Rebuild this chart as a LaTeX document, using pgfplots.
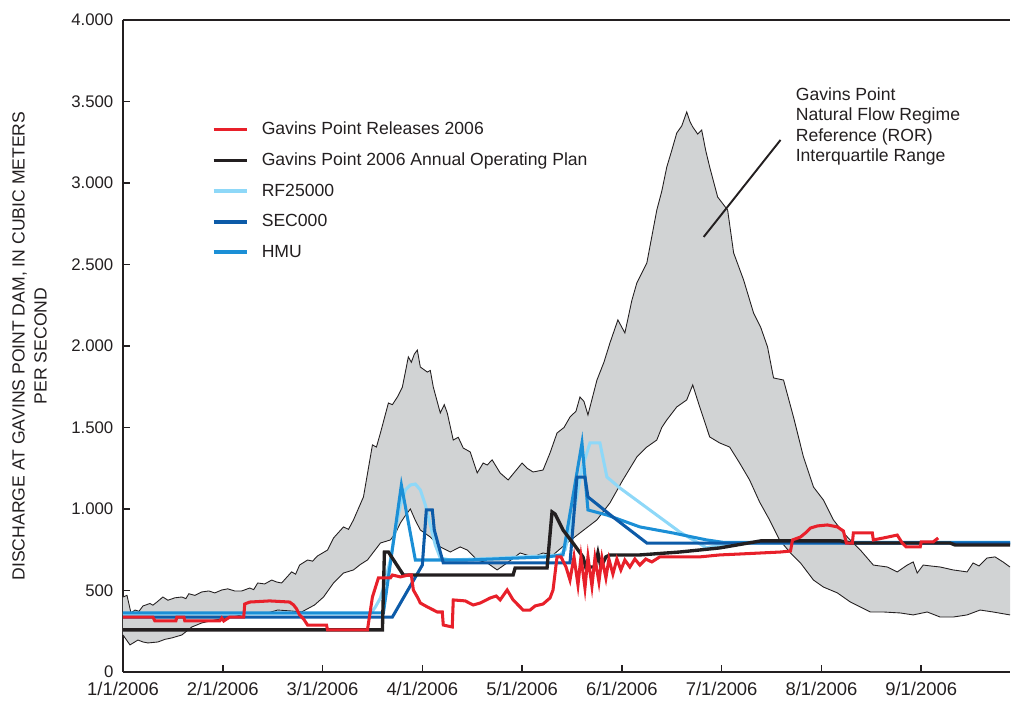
\documentclass[border=0pt]{standalone}
\usepackage{fontspec}
\setmainfont{Liberation Sans}
\usepackage{pgfplots}
\pgfplotsset{compat=1.18}
\usepgfplotslibrary{fillbetween}

\definecolor{relred}{HTML}{E8202A}
\definecolor{aopblack}{HTML}{231F20}
\definecolor{rfblue}{HTML}{8ED8F8}
\definecolor{secblue}{HTML}{0D5BA8}
\definecolor{hmublue}{HTML}{1B8FD6}
\definecolor{bandgray}{HTML}{D1D3D4}

\begin{document}
\begin{tikzpicture}
\begin{axis}[
  name=ax,
  scale only axis, width=554.4pt, height=407.5pt,
  xmin=0, xmax=8.89, ymin=0, ymax=4000,
  axis x line*=bottom, axis y line*=left,
  axis line style={-, line width=1.2pt, color=aopblack},
  xtick={0,1,2,3,4,5,6,7,8},
  xticklabels={1/1/2006,2/1/2006,3/1/2006,4/1/2006,5/1/2006,6/1/2006,7/1/2006,8/1/2006,9/1/2006},
  ytick={0,500,1000,1500,2000,2500,3000,3500,4000},
  xtick align=inside, ytick align=inside, major tick length=4.4pt,
  tick style={line width=1pt, color=aopblack},
  /pgf/number format/assume math mode=true,
  /pgf/number format/1000 sep={.},
  yticklabel style={font=\fontsize{10.5}{12}\selectfont, color=aopblack, xshift=-2.5pt},
  xticklabel style={font=\fontsize{11.5}{12}\selectfont, color=aopblack, yshift=-3pt},
  ylabel={DISCHARGE AT GAVINS POINT DAM, IN CUBIC METERS\\PER SECOND},
  ylabel style={align=center, font=\fontsize{11}{13.75}\selectfont, color=aopblack},
  ylabel shift=8.5pt,
  legend style={at={(rel axis cs:0.0944,0.854)}, anchor=north west, draw=none, fill=none,
    font=\fontsize{11}{13}\selectfont, row sep=5.9pt, text=aopblack},
  legend cell align=left,
  legend image code/.code={\draw[#1] (0pt,0pt) -- (20.6pt,0pt); \path (27pt,0pt);},
]

% legend samples, in the order they are listed
\addlegendimage{relred, line width=2.2pt}
\addlegendimage{aopblack, line width=2.2pt}
\addlegendimage{rfblue, line width=2.2pt}
\addlegendimage{secblue, line width=2.2pt}
\addlegendimage{hmublue, line width=2.2pt}
\legend{Gavins Point Releases 2006, Gavins Point 2006 Annual Operating Plan, RF25000, SEC000, HMU}

% natural flow regime interquartile range (upper and lower quartiles)
\addplot[name path=upper, aopblack, line width=0.55pt, forget plot] coordinates {
(0.00,460) (0.04,470) (0.08,362) (0.12,380) (0.16,372) (0.20,405) (0.27,420) (0.30,410) (0.34,429) (0.40,460)
(0.45,440) (0.52,455) (0.59,460) (0.63,450) (0.66,480) (0.72,470) (0.79,491) (0.86,497) (0.92,485)
(0.99,503) (1.05,510) (1.12,497) (1.19,497) (1.27,515) (1.31,505) (1.35,546) (1.42,540) (1.49,564)
(1.54,552) (1.59,546) (1.64,580) (1.69,614) (1.73,600) (1.77,656) (1.85,687) (1.90,680) (1.95,712) (2.05,748) (2.11,822)
(2.21,890) (2.26,875) (2.31,933) (2.41,1074) (2.50,1393) (2.54,1380) (2.58,1466) (2.66,1650) (2.70,1640) (2.75,1687) (2.80,1748)
(2.86,1933) (2.89,1900) (2.92,1950) (2.95,1975) (2.98,1871) (3.05,1840) (3.08,1850) (3.11,1748) (3.18,1589) (3.22,1640) (3.25,1589)
(3.31,1423) (3.36,1440) (3.41,1374) (3.48,1350) (3.55,1221) (3.61,1282) (3.65,1270) (3.70,1301) (3.78,1221) (3.86,1178)
(3.93,1230) (4.00,1282) (4.05,1250) (4.11,1227) (4.21,1239) (4.28,1344) (4.35,1466) (4.42,1500) (4.48,1564) (4.54,1600) (4.58,1687)
(4.62,1660) (4.66,1577) (4.75,1791) (4.82,1900) (4.88,2018) (4.96,2160) (5.03,2080) (5.10,2280) (5.15,2387) (5.25,2509) (5.35,2834)
(5.40,2950) (5.45,3098) (5.50,3200) (5.55,3307) (5.60,3350) (5.65,3436) (5.68,3380) (5.71,3344) (5.76,3300) (5.80,3325) (5.84,3200) (5.88,3098) (5.96,2914) (6.06,2834)
(6.12,2571) (6.22,2405) (6.32,2202) (6.39,2117) (6.46,1994) (6.52,1804) (6.62,1791) (6.72,1564)
(6.82,1319) (6.92,1135) (7.02,1055) (7.12,933) (7.20,870) (7.26,828) (7.39,748) (7.52,656) (7.66,644)
(7.76,614) (7.86,656) (7.92,675) (7.96,607) (8.02,656) (8.10,650) (8.19,644) (8.32,626) (8.46,614)
(8.52,669) (8.58,650) (8.66,699) (8.74,706) (8.82,675) (8.89,644)
};
\addplot[name path=lower, aopblack, line width=0.55pt, forget plot] coordinates {
(0.00,227) (0.07,166) (0.15,196) (0.20,184) (0.25,178) (0.35,184) (0.42,200) (0.49,209) (0.59,227) (0.69,276)
(0.79,301) (0.92,319) (1.05,331) (1.19,350) (1.32,356) (1.45,362) (1.55,380) (1.69,374)
(1.79,368) (1.92,411) (2.01,460) (2.11,546) (2.21,607) (2.31,626) (2.38,660) (2.45,687) (2.58,791)
(2.68,810) (2.73,850) (2.78,914) (2.83,960) (2.88,1000) (2.93,930) (2.98,871) (3.08,828) (3.18,767) (3.28,736)
(3.38,767) (3.45,748) (3.55,687) (3.65,669) (3.75,626) (3.85,669) (3.98,730) (4.11,706)
(4.21,730) (4.31,718) (4.45,791) (4.58,853) (4.75,933) (4.88,1037) (5.01,1178) (5.15,1319)
(5.25,1380) (5.35,1423) (5.40,1500) (5.45,1546) (5.55,1626) (5.65,1669) (5.71,1761) (5.78,1626) (5.88,1442)
(5.98,1405) (6.08,1380) (6.18,1282) (6.28,1178) (6.38,1043) (6.48,933) (6.58,810) (6.69,730)
(6.79,669) (6.92,564) (7.02,521) (7.16,485) (7.29,429) (7.39,399) (7.49,368) (7.62,368)
(7.79,362) (7.92,350) (8.06,368) (8.19,337) (8.32,337) (8.46,350) (8.59,380) (8.72,368)
(8.89,350)
};
\addplot[bandgray, forget plot] fill between[of=upper and lower];

% RF25000
\addplot[rfblue, line width=1.9pt, forget plot] coordinates {
(0,356) (2.48,356) (2.53,399) (2.58,454) (2.63,564) (2.68,687) (2.73,871) (2.78,1025)
(2.83,1117) (2.88,1147) (2.93,1153) (2.98,1117) (3.03,1025) (3.08,902) (3.13,779) (3.18,699)
(3.28,687) (3.78,699) (4.38,718) (4.43,748) (4.51,951) (4.60,1250) (4.68,1405) (4.78,1405)
(4.85,1196) (4.98,1129) (5.28,994) (5.58,859) (5.85,761) (5.93,773) (6.09,791) (8.89,791)
};
% HMU
\addplot[hmublue, line width=1.9pt, forget plot] coordinates {
(0,362) (2.61,362) (2.79,1147) (2.93,687) (3.45,687) (4.25,706) (4.41,718) (4.60,1405)
(4.66,994) (4.85,963) (5.18,890) (5.51,853) (5.85,810) (6.02,795) (8.89,795)
};
% SEC000
\addplot[secblue, line width=1.9pt, forget plot] coordinates {
(0,337) (2.70,337) (3.00,656) (3.04,994) (3.10,994) (3.12,871) (3.21,669) (4.48,669)
(4.55,1196) (4.63,1196) (4.66,1074) (4.91,951) (5.25,791) (8.89,791)
};
% 2006 annual operating plan
\addplot[aopblack, line width=2.1pt, forget plot] coordinates {
(0,258) (2.59,258) (2.60,258) (2.62,736) (2.66,736) (2.81,595) (3.91,595) (3.93,638)
(4.25,638) (4.30,982) (4.33,969) (4.41,871) (4.51,791) (4.61,706) (4.64,638) (4.68,644)
(4.73,644) (4.76,730) (4.79,644) (4.84,706) (4.88,718) (5.18,718) (5.58,736) (5.98,761)
(6.39,804) (7.19,804) (7.29,791) (8.29,791) (8.34,779) (8.89,779)
};
% observed releases 2006
\addplot[relred, line width=1.9pt, forget plot] coordinates {
(0,337) (0.30,337) (0.32,313) (0.53,313) (0.54,337) (0.61,337) (0.62,313) (0.97,313)
(0.99,331) (1.01,313) (1.07,337) (1.21,337) (1.22,417) (1.27,429) (1.47,436) (1.67,429)
(1.71,411) (1.74,387) (1.77,350) (1.81,325) (1.85,288) (2.04,288) (2.05,258) (2.45,258)
(2.50,460) (2.56,577) (2.68,577) (2.70,595) (2.78,583) (2.86,595) (2.89,595) (2.91,503)
(2.95,460) (2.98,423) (3.05,399) (3.15,368) (3.20,368) (3.21,288) (3.30,276) (3.31,442)
(3.43,436) (3.51,411) (3.58,423) (3.68,454) (3.74,466) (3.78,442) (3.85,503) (3.91,442)
(3.96,411) (4.01,380) (4.08,380) (4.13,405) (4.21,417) (4.28,454) (4.31,503) (4.35,706)
(4.39,706) (4.44,644) (4.48,564) (4.52,706) (4.56,534) (4.59,706) (4.63,515) (4.66,706)
(4.70,527) (4.73,699) (4.77,552) (4.80,699) (4.84,577) (4.87,693) (4.91,601) (4.95,693)
(4.99,626) (5.03,687) (5.08,644) (5.13,693) (5.18,656) (5.24,693) (5.30,675) (5.38,706)
(5.58,706) (5.78,706) (5.98,718) (6.19,724) (6.39,730) (6.59,736) (6.69,742) (6.71,810)
(6.79,828) (6.84,853) (6.89,883) (6.96,896) (7.06,902) (7.16,890) (7.22,865) (7.25,791)
(7.31,791) (7.32,853) (7.51,853) (7.52,810) (7.62,822) (7.76,840) (7.81,791) (7.85,767)
(7.99,767) (8.00,798) (8.12,798) (8.17,822)
};

% top frame line
\draw[aopblack, line width=1.2pt] (rel axis cs:0,1) -- (rel axis cs:1,1);

% annotation for the shaded range
\node[anchor=north west, align=left, inner sep=0pt, text=aopblack,
      font=\fontsize{11}{12.8}\selectfont] at (axis cs:6.74,3589)
  {Gavins Point\\Natural Flow Regime\\Reference (ROR)\\Interquartile Range};
\draw[aopblack, line width=1.2pt] (axis cs:6.59,3264) -- (axis cs:5.82,2669);
\end{axis}
\pgfresetboundingbox
\path[use as bounding box] ([xshift=-76.875pt, yshift=-18.75pt]ax.south west)
  rectangle ([xshift=0.625pt, yshift=12.5pt]ax.north east);
\end{tikzpicture}
\end{document}
